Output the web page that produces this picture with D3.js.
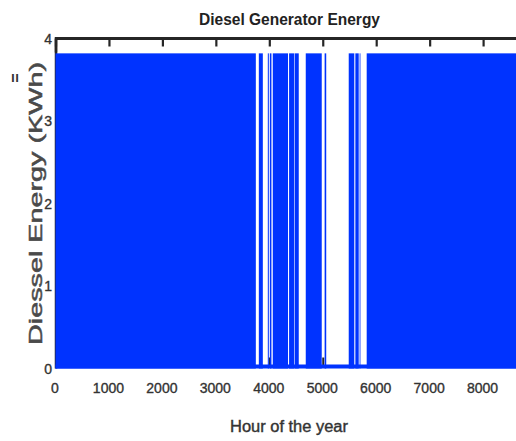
<!DOCTYPE html>
<html>
<head>
<meta charset="utf-8">
<script src="https://cdn.jsdelivr.net/npm/d3@7"></script>
<style>
  html, body { margin: 0; padding: 0; background: #fff; overflow: hidden; }
  svg { display: block; }
</style>
</head>
<body>
<script>
// ---- data ----
const title = "Diesel Generator Energy";
const xLabel = "Hour of the year";
const yLabel = "Diessel Energy (KWh)";
const xTicks = [0, 1000, 2000, 3000, 4000, 5000, 6000, 7000, 8000];
const yTicks = [0, 1, 2, 3, 4];
// running blocks of the diesel generator: start hour, end hour, energy (kWh)
const blockStart = [0,    3804, 3972, 4010, 4065, 4370, 4475, 4682, 5035, 5486, 5610, 5690, 5822];
const blockEnd   = [3748, 3879, 3991, 4040, 4350, 4465, 4551, 4981, 5065, 5590, 5673, 5705, 8760];
const blockValue = [3.82, 3.82, 3.82, 3.82, 3.82, 3.82, 3.82, 3.82, 3.82, 3.82, 3.82, 3.82, 3.82];

(function () {
const W = 516, H = 441;
const svg = d3.select("body").append("svg").attr("width", W).attr("height", H);

const x = d3.scaleLinear().domain([0, 8760]).range([55.5, 55.5 + 8760 * 0.05345]);
const y = d3.scaleLinear().domain([0, 4]).range([368.5, 38.5]);

const blue = "#0033ff";
const dark = "#262626";

// left axis line (mostly hidden by bars)
svg.append("line").attr("x1", 56).attr("x2", 56).attr("y1", y(4)).attr("y2", y(0))
  .attr("stroke", dark).attr("stroke-width", 2.5);

// bottom axis ticks (pointing up) - only visible in gaps
const bottomAxis = svg.append("g").attr("transform", `translate(0,${y(0) - 3})`)
  .call(d3.axisBottom(x).tickValues(xTicks).tickSizeInner(-8).tickSizeOuter(0).tickFormat(""));
bottomAxis.select(".domain").remove();
bottomAxis.selectAll(".tick line").attr("stroke", dark).attr("stroke-width", 2);

// bars
const blocks = blockStart.map((s, i) => ({ s, e: blockEnd[i], v: blockValue[i] }));
svg.append("g").selectAll("rect").data(blocks).join("rect")
  .attr("x", d => x(d.s))
  .attr("width", d => Math.max(0.8, x(d.e) - x(d.s)))
  .attr("y", d => y(d.v))
  .attr("height", d => y(0) - y(d.v))
  .attr("fill", blue);

// blue baseline strip
svg.append("rect").attr("x", x(0)).attr("width", x(8760) - x(0))
  .attr("y", y(0) - 4).attr("height", 4).attr("fill", blue);

// top axis with inward ticks
const topAxis = svg.append("g").attr("transform", `translate(0,${y(4)})`)
  .call(d3.axisBottom(x).tickValues(xTicks).tickSizeInner(8).tickSizeOuter(0).tickFormat(""));
topAxis.select(".domain").attr("stroke", dark).attr("stroke-width", 3)
  .attr("d", `M${x(0)},0H${W + 10}`);
topAxis.selectAll(".tick line").attr("stroke", dark).attr("stroke-width", 2.2);
svg.append("line").attr("x1", 56).attr("x2", 56).attr("y1", y(4) - 1.5).attr("y2", 52.5)
  .attr("stroke", dark).attr("stroke-width", 2.5);

const font = "Liberation Sans, Arial, sans-serif";

// x tick labels
svg.append("g").selectAll("text").data(xTicks).join("text")
  .attr("x", d => x(d) - 0.5)
  .attr("y", 393)
  .attr("text-anchor", "middle")
  .attr("font-family", font)
  .attr("font-size", 14)
  .attr("fill", "#333").attr("stroke", "#333").attr("stroke-width", 0.35)
  .text(d => d);

// y tick labels
svg.append("g").selectAll("text").data(yTicks).join("text")
  .attr("x", 52)
  .attr("y", d => y(d) + 5)
  .attr("text-anchor", "end")
  .attr("font-family", font)
  .attr("font-size", 14)
  .attr("fill", "#333").attr("stroke", "#333").attr("stroke-width", 0.35)
  .text(d => d);

// title
svg.append("text").attr("x", 289.5).attr("y", 25)
  .attr("text-anchor", "middle")
  .attr("font-family", font)
  .attr("font-weight", "bold").attr("font-size", 16)
  .attr("textLength", 181).attr("lengthAdjust", "spacingAndGlyphs")
  .attr("fill", "#222").text(title);

// x label
svg.append("text").attr("x", 289).attr("y", 432)
  .attr("text-anchor", "middle")
  .attr("font-family", font)
  .attr("font-size", 16)
  .attr("textLength", 118).attr("lengthAdjust", "spacingAndGlyphs")
  .attr("fill", "#333").attr("stroke", "#333").attr("stroke-width", 0.4).text(xLabel);

// y label
svg.append("text").attr("transform", "translate(42,203.5) rotate(-90)")
  .attr("text-anchor", "middle")
  .attr("font-family", font)
  .attr("font-size", 19)
  .attr("textLength", 283).attr("lengthAdjust", "spacingAndGlyphs")
  .attr("fill", "#4a4a4a").attr("stroke", "#4a4a4a").attr("stroke-width", 0.5).text(yLabel);

// small stray mark near the top of the y label
svg.append("text").attr("transform", "translate(21,78) rotate(-90)")
  .attr("text-anchor", "middle")
  .attr("font-family", font)
  .attr("font-size", 16).attr("font-weight", "bold")
  .attr("fill", "#333").text("=");
})();
</script>
</body>
</html>
